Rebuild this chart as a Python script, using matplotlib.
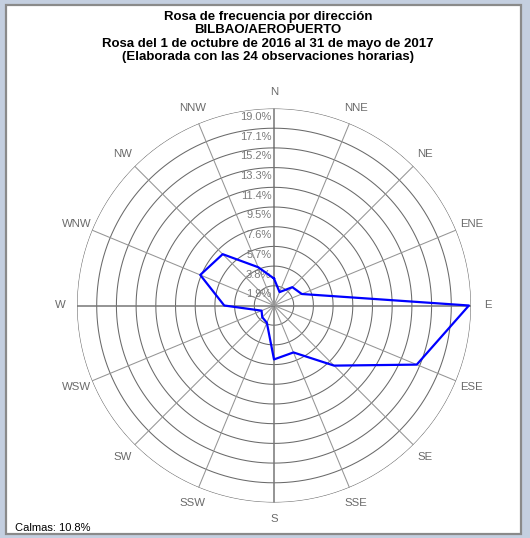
"""Rosa de frecuencia por dirección - Bilbao/Aeropuerto."""

import matplotlib

matplotlib.use("Agg")
import matplotlib.pyplot as plt
import numpy as np
from matplotlib.patches import Rectangle


DIRECTIONS = ["N", "NNE", "NE", "ENE", "E", "ESE", "SE", "SSE",
              "S", "SSW", "SW", "WSW", "W", "WNW", "NW", "NNW"]
# frequency (%) per direction
FREQUENCY = [2.6, 1.4, 2.5, 2.9, 18.8, 14.9, 8.2, 4.9,
             5.2, 1.8, 1.6, 1.3, 4.8, 7.7, 7.0, 4.0]
RING_VALUES = [1.9, 3.8, 5.7, 7.6, 9.5, 11.4, 13.3, 15.2, 17.1, 19.0]
RING_LABELS = ["1.9%", "3.8%", "5.7%", "7.6%", "9.5%",
               "11.4%", "13.3%", "15.2%", "17.1%", "19.0%"]
CALMS = 10.8
TITLE_LINES = [
    "Rosa de frecuencia por dirección",
    "BILBAO/AEROPUERTO",
    "Rosa del 1 de octubre de 2016 al 31 de mayo de 2017",
    "(Elaborada con las 24 observaciones horarias)",
]

W, H = 530, 538


def main() -> None:
    plt.rcParams["font.family"] = ["Liberation Sans", "DejaVu Sans"]
    fig = plt.figure(figsize=(W / 100, H / 100), dpi=100, facecolor="#c4cfe0")

    # white window panel with grey frame
    fig.patches.append(Rectangle(
        (6 / W, 1 - 534 / H), 515 / W, 529 / H,
        transform=fig.transFigure, facecolor="white",
        edgecolor="#8a8a8a", linewidth=1.6, zorder=-5,
    ))

    cx, cy, rad = 274, 305.5, 197
    ax = fig.add_axes(
        [(cx - rad) / W, 1 - (cy + rad) / H, 2 * rad / W, 2 * rad / H],
        projection="polar",
    )
    ax.set_zorder(2)
    ax.set_theta_zero_location("N")
    ax.set_theta_direction(-1)
    ax.set_ylim(0, RING_VALUES[-1])
    ax.axis("off")

    full = np.linspace(0, 2 * np.pi, 361)
    for r in RING_VALUES:
        ax.plot(full, np.full(full.size, r), color="#6a6a6a", linewidth=0.75)

    angles = np.deg2rad(np.arange(len(DIRECTIONS)) * 22.5)
    for i, a in enumerate(angles):
        main_axis = i % 4 == 0
        ax.plot([a, a], [0, RING_VALUES[-1]],
                color="#767676" if main_axis else "#959595",
                linewidth=1.1 if main_axis else 0.75)
        ax.text(a, 20.6, DIRECTIONS[i], ha="center", va="center",
                fontsize=8.2, color="#6a6a6a")

    for r, label in zip(RING_VALUES, RING_LABELS):
        ax.annotate(label, xy=(0, r), xytext=(-2, -2.5), textcoords="offset points",
                    ha="right", va="top", fontsize=8, color="#7a7a7a")

    theta = np.r_[angles, angles[0]]
    values = np.r_[FREQUENCY, FREQUENCY[0]]
    ax.plot(theta, values, color="#0000ff", linewidth=1.6, zorder=5)

    for k, line in enumerate(TITLE_LINES):
        fig.text(268 / W, 1 - (17 + 13.4 * k) / H, line, ha="center", va="center",
                 fontsize=9.5, fontweight="bold", color="black")

    fig.text(15 / W, 1 - 528 / H, f"Calmas: {CALMS}%", ha="left", va="center",
             fontsize=8, color="black")

    fig.savefig("out.png", dpi=100, facecolor=fig.get_facecolor())
    plt.close(fig)


if __name__ == "__main__":
    main()
